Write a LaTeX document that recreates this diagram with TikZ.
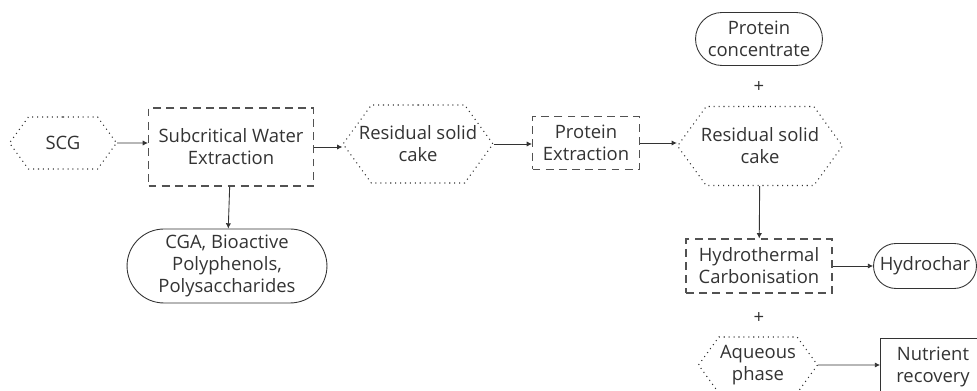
\documentclass[tikz,border=0pt]{standalone}
\usepackage{fontspec}
\setmainfont{Open Sans}
\usetikzlibrary{positioning,arrows.meta,shapes.symbols,shapes.misc}
\definecolor{inkgray}{HTML}{333333}
\tikzset{
    every node/.style={
        font=\fontsize{10.5}{12.5}\selectfont,
        text=inkgray,
        align=center
    },
    stream/.style={
        shape=signal,
        signal to=east and west,
        signal pointer angle=108,
        draw=inkgray,
        line width=0.6pt,
        dash pattern=on 0.6pt off 2.2pt,
        inner xsep=-0.35cm,
        inner ysep=1pt
    },
    process/.style={
        shape=rectangle,
        draw=inkgray!85,
        line width=0.6pt,
        dash pattern=on 4.5pt off 3pt,
        inner sep=2pt
    },
    product/.style={
        shape=rounded rectangle,
        draw=inkgray,
        line width=0.5pt,
        inner sep=2pt
    },
    link/.style={
        draw=inkgray,
        line width=0.5pt,
        ->,
        >={Latex[length=3pt,width=3pt]}
    }
}
\tikzstyle{block} = [rectangle, draw=inkgray, line width=0.5pt, text centered, minimum height=3em]

\begin{document}
\begin{tikzpicture}[x=0.02cm,y=-0.02cm]
    \clip (0,0) rectangle (977,391);
    \useasboundingbox (0,0) rectangle (977,391);
    % Main line
    \node (scg) at (63,143) [stream, minimum width=2.14cm, minimum height=1.04cm] {SCG};
    \node (swe) at (231,147) [process, minimum width=3.3cm, minimum height=1.56cm] {Subcritical Water\\Extraction};
    \node (rsc1) at (418,144) [stream, minimum width=3.0cm, minimum height=1.56cm] {Residual solid\\cake};
    \node (cga) at (227,266) [product, minimum width=4.14cm, minimum height=1.48cm] {CGA, Bioactive\\Polyphenols,\\Polysaccharides};
    \node (pe) at (586,143) [process, minimum width=2.14cm, minimum height=1.06cm] {Protein\\Extraction};
    \node (rsc2) at (760,146) [stream, minimum width=3.3cm, minimum height=1.58cm] {Residual solid\\cake};
    \node (pc) at (759,39) [product, minimum width=2.68cm, minimum height=1.06cm] {Protein\\concentrate};
    \node (plus1) at (759,87) {+};
    \node (htc) at (759,266) [process, minimum width=2.92cm, minimum height=1.08cm] {Hydrothermal\\Carbonisation};
    \node (hc) at (925,266) [product, minimum width=2.2cm, minimum height=0.9cm] {Hydrochar};
    \node (plus2) at (759,318) {+};
    \node (aq) at (758,365) [stream, minimum width=2.38cm, minimum height=1.12cm] {Aqueous\\phase};
    \node (nr) at (933,367) [block, minimum width=2.1cm, minimum height=1.14cm] {Nutrient\\recovery};
    % Connectors
    \draw [link] (scg) -- (scg -| swe.west);
    \draw [link] (swe.east) -- (swe.east -| rsc1.west);
    \draw [link] (swe) -- (cga);
    \draw [link] (rsc1.east) -- (rsc1.east -| pe.west);
    \draw [link] (pe.east) -- (pe.east -| rsc2.west);
    \draw [link] (rsc2) -- (htc);
    \draw [link] (htc) -- (hc);
    \draw [link] (aq) -- (aq -| nr.west);
\end{tikzpicture}
\end{document}
